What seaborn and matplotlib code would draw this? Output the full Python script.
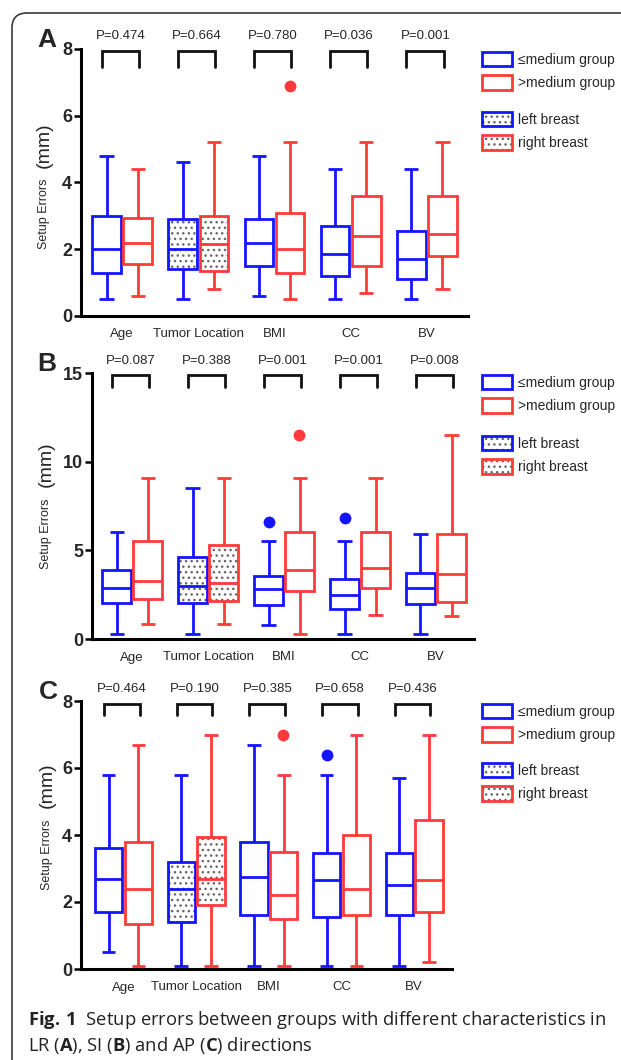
import numpy as np
import pandas as pd
import matplotlib
matplotlib.use('Agg')
import matplotlib.pyplot as plt
import matplotlib.patches as mpatches
import matplotlib.colors as mcolors
import seaborn as sns

# ---- data ----
cats = ['Age', 'Tumor Location', 'BMI', 'CC', 'BV']
groups = ['≤medium', '>medium']

# five-number summaries per category: [min, q1, median, q3, max]
a_blue = [[0.5, 1.3, 2.0, 3.0, 4.8], [0.5, 1.4, 2.0, 2.9, 4.6], [0.6, 1.5, 2.2, 2.9, 4.8],
          [0.5, 1.2, 1.85, 2.7, 4.4], [0.5, 1.1, 1.7, 2.55, 4.4]]
a_red = [[0.6, 1.55, 2.2, 2.95, 4.4], [0.8, 1.35, 2.15, 3.0, 5.2], [0.5, 1.3, 2.0, 3.1, 5.2],
         [0.7, 1.5, 2.4, 3.6, 5.2], [0.8, 1.8, 2.45, 3.6, 5.2]]
b_blue = [[0.3, 2.05, 2.9, 3.9, 6.05], [0.3, 2.05, 3.0, 4.65, 8.5], [0.8, 1.9, 2.8, 3.55, 5.5],
          [0.3, 1.7, 2.5, 3.4, 5.5], [0.3, 2.0, 2.9, 3.75, 5.9]]
b_red = [[0.85, 2.25, 3.25, 5.5, 9.1], [0.85, 2.15, 3.15, 5.3, 9.1], [0.3, 2.7, 3.9, 6.05, 9.1],
         [1.35, 2.9, 4.0, 6.05, 9.1], [1.3, 2.1, 3.65, 5.9, 11.5]]
c_blue = [[0.5, 1.7, 2.7, 3.6, 5.8], [0.1, 1.4, 2.4, 3.2, 5.8], [0.1, 1.6, 2.75, 3.8, 6.7],
          [0.1, 1.55, 2.65, 3.45, 5.8], [0.1, 1.6, 2.5, 3.45, 5.7]]
c_red = [[0.1, 1.35, 2.4, 3.8, 6.7], [0.1, 1.9, 2.7, 3.95, 7.0], [0.1, 1.5, 2.2, 3.5, 5.8],
         [0.1, 1.6, 2.4, 4.0, 7.0], [0.2, 1.7, 2.65, 4.45, 7.0]]

# outliers (category, group, value)
a_out = [('BMI', '>medium', 6.9)]
b_out = [('BMI', '≤medium', 6.6), ('BMI', '>medium', 11.5), ('CC', '≤medium', 6.8)]
c_out = [('BMI', '>medium', 7.0), ('CC', '≤medium', 6.4)]

a_p = ['0.474', '0.664', '0.780', '0.036', '0.001']
b_p = ['0.087', '0.388', '0.001', '0.001', '0.008']
c_p = ['0.464', '0.190', '0.385', '0.658', '0.436']

BLUE = '#1414ff'
RED = '#ff3a3a'
DOTS = '#666666'
HATCH = '...'

sns.set_style('ticks')
plt.rcParams['font.family'] = ['Liberation Sans', 'DejaVu Sans']
plt.rcParams['hatch.linewidth'] = 1.0
plt.rcParams['mathtext.fontset'] = 'custom'
plt.rcParams['mathtext.rm'] = 'Open Sans'
plt.rcParams['mathtext.bf'] = 'Open Sans:bold'

W, H = 621, 1060
fig = plt.figure(figsize=(W / 100, H / 100), dpi=100)


def long_df(blue, red):
    rows = []
    for i, c in enumerate(cats):
        for g, stats in zip(groups, [blue[i], red[i]]):
            for v in stats:
                rows.append((c, g, v))
    return pd.DataFrame(rows, columns=['cat', 'grp', 'val'])


def set_hatch_color(p, color):
    if hasattr(p, 'set_hatchcolor'):
        p.set_hatchcolor(color)
    else:
        p._hatch_color = mcolors.to_rgba(color)


# panel layout: axes rect in pixels (left, top, right, bottom), ylim, ticks, bracket ys, xlim
panels = [
    dict(letter='A', blue=a_blue, red=a_red, out=a_out, p=a_p,
         px=(81, 49, 468, 316), ylim=(0, 8), ticks=[0, 2, 4, 6, 8],
         br=(7.45, 7.95, 8.38), xlim=(-0.54, 4.54), lab=(47, 40),
         yl=(44, 214, 145), leg=(482, 52, 112)),
    dict(letter='B', blue=b_blue, red=b_red, out=b_out, p=b_p,
         px=(92, 373, 474, 639), ylim=(0, 15), ticks=[0, 5, 10, 15],
         br=(14.2, 14.9, 15.65), xlim=(-0.53, 4.5), lab=(47, 364),
         yl=(46, 534, 464), leg=(482, 375, 436)),
    dict(letter='C', blue=c_blue, red=c_red, out=c_out, p=c_p,
         px=(81, 701, 452, 969), ylim=(0, 8), ticks=[0, 2, 4, 6, 8],
         br=(7.57, 7.9, 8.37), xlim=(-0.585, 4.52), lab=(48, 692),
         yl=(47, 855, 785), leg=(482, 704, 763)),
]

for pn in panels:
    l, t, r, b = pn['px']
    ax = fig.add_axes([l / W, 1 - b / H, (r - l) / W, (b - t) / H])
    df = long_df(pn['blue'], pn['red'])
    sns.boxplot(data=df, x='cat', y='val', hue='grp', order=cats, hue_order=groups,
                palette=[BLUE, RED], whis=(0, 100), width=0.82, gap=0.08,
                linewidth=2, legend=False, ax=ax)

    # white boxes with coloured outlines, dotted for tumor location
    for p in ax.patches:
        v = p.get_path().vertices
        xm = (v[:, 0].min() + v[:, 0].max()) / 2
        col = BLUE if xm - round(xm) < 0 else RED
        p.set_facecolor('white')
        p.set_edgecolor(col)
        p.set_linewidth(2)
        if round(xm) == 1:
            p.set_hatch(HATCH)
            set_hatch_color(p, DOTS)
    for ln in ax.lines:
        xd = np.asarray(ln.get_xdata(), dtype=float)
        if len(xd) == 0:
            continue
        xm = xd.mean()
        ln.set_color(BLUE if xm - round(xm) < 0 else RED)
        ln.set_linewidth(2)
        ln.set_solid_capstyle('butt')

    odf = pd.DataFrame(pn['out'], columns=['cat', 'grp', 'val'])
    sns.stripplot(data=odf, x='cat', y='val', hue='grp', order=cats, hue_order=groups,
                  palette=[BLUE, RED], dodge=True, jitter=False, size=8.5,
                  linewidth=0, legend=False, ax=ax)

    ax.set_xlim(*pn['xlim'])
    ax.set_ylim(*pn['ylim'])
    ax.set_yticks(pn['ticks'])
    ax.set_yticklabels([str(v) for v in pn['ticks']], fontsize=13, fontweight='bold')
    ax.set_xticks(range(len(cats)))
    ax.set_xticklabels(cats, fontsize=9.5)
    ax.tick_params(axis='x', length=0, pad=9)
    ax.tick_params(axis='y', length=5, width=1.8, pad=1.5, color='black')
    ax.set_xlabel('')
    ax.set_ylabel('')
    sns.despine(ax=ax)
    for s in ['left', 'bottom']:
        ax.spines[s].set_linewidth(2.2)
        ax.spines[s].set_color('black')
    ax.patch.set_alpha(0)

    # significance brackets
    y0, y1, yt = pn['br']
    for i, pv in enumerate(pn['p']):
        ax.plot([i - 0.27, i - 0.27, i + 0.22, i + 0.22], [y0, y1, y1, y0],
                color='#111111', lw=2, clip_on=False, solid_joinstyle='miter')
        ax.text(i - 0.02, yt, 'P=' + pv, ha='center', va='center', fontsize=9.5,
                clip_on=False)

    # panel letter and y label
    lx, ly = pn['lab']
    fig.text(lx / W, 1 - ly / H, pn['letter'], fontsize=19, fontweight='bold',
             ha='center', va='center')
    yx, ys, ym = pn['yl']
    fig.text(yx / W, 1 - ys / H, 'Setup Errors', rotation=90, fontsize=9,
             ha='center', va='center')
    fig.text(yx / W, 1 - ym / H, '(mm)', rotation=90, fontsize=14,
             ha='center', va='center')

    # legends
    gx, gy1, gy2 = pn['leg']
    kw = dict(loc='upper left', frameon=False, borderpad=0, borderaxespad=0,
              handlelength=2.15, handleheight=1.2, handletextpad=0.45,
              labelspacing=0.62, fontsize=10)
    h1 = [mpatches.Patch(facecolor='white', edgecolor=BLUE, lw=2, label='≤medium group'),
          mpatches.Patch(facecolor='white', edgecolor=RED, lw=2, label='>medium group')]
    h2 = [mpatches.Patch(facecolor='white', edgecolor=BLUE, lw=2, hatch=HATCH, label='left breast'),
          mpatches.Patch(facecolor='white', edgecolor=RED, lw=2, hatch=HATCH, label='right breast')]
    fig.legend(handles=h1, bbox_to_anchor=(gx / W, 1 - gy1 / H), **kw)
    leg2 = fig.legend(handles=h2, bbox_to_anchor=(gx / W, 1 - gy2 / H), **kw)
    for p in leg2.get_patches():
        set_hatch_color(p, DOTS)

# caption
fig.text(28 / W, 1 - 1025 / H,
         r'$\mathbf{Fig.\,1}$  Setup errors between groups with different characteristics in',
         fontsize=13.2, family='Open Sans', color='#222222', va='baseline')
fig.text(28 / W, 1 - 1051 / H,
         r'LR ($\mathbf{A}$), SI ($\mathbf{B}$) and AP ($\mathbf{C}$) directions',
         fontsize=13.2, family='Open Sans', color='#222222', va='baseline')

# frame around the figure (rounded top-left corner, open to the right/bottom)
frame = mpatches.FancyBboxPatch((0.12, -0.5), 7.0, 10.47 + 0.5,
                                boxstyle='round,pad=0,rounding_size=0.15',
                                transform=fig.dpi_scale_trans, fill=False,
                                edgecolor='#3a3a3a', lw=1.2, clip_on=False)
fig.add_artist(frame)

fig.savefig('out.png', dpi=100)
